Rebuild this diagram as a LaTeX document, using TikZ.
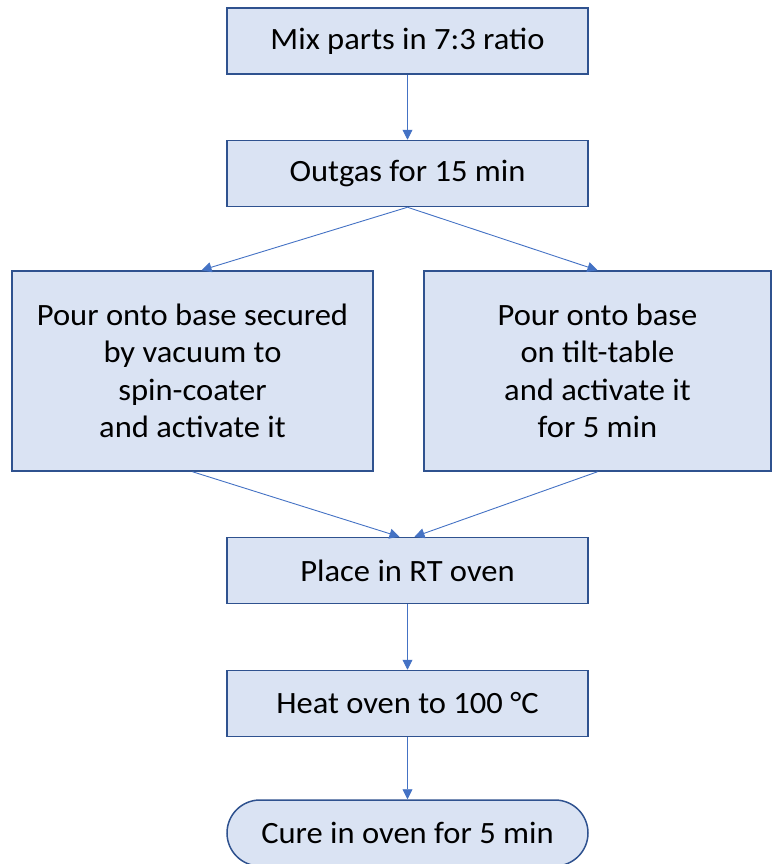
\documentclass[tikz,border=0pt]{standalone}
\usepackage{fontspec}
\setmainfont{Carlito}[FakeStretch=1.05]
\usetikzlibrary{arrows.meta,calc}
\definecolor{boxfill}{HTML}{DAE3F3}
\definecolor{boxdraw}{HTML}{2F528F}
\definecolor{arrowcol}{HTML}{4472C4}
\begin{document}
\begin{tikzpicture}[x=1bp,y=-1bp,
  stepbox/.style={draw=boxdraw,fill=boxfill,line width=1.5bp,minimum width=361bp,minimum height=66bp,inner sep=0pt,align=center,font=\fontsize{31bp}{37.5bp}\selectfont},
  termbox/.style={stepbox,rounded corners=33bp},
  conn/.style={draw=arrowcol,line width=0.9bp,-{Triangle[length=10bp,width=10bp]}}]
\useasboundingbox (0,0) rectangle (772,864);
\begin{scope}
\clip (0,0) rectangle (772,864);
\node[stepbox] (mix) at (407.5,41) {Mix parts in 7:3 ratio};
\node[stepbox] (outgas) at (407.5,173.5) {Outgas for 15 min};
\node[stepbox,minimum width=361bp,minimum height=200bp] (left) at (192.5,371) {Pour onto base secured\\by vacuum to\\spin-coater\\and activate it};
\node[stepbox,minimum width=347bp,minimum height=200bp] (right) at (597.5,371) {Pour onto base\\on tilt-table\\and activate it\\for 5 min};
\node[stepbox] (place) at (407.5,570.5) {Place in RT oven};
\node[stepbox] (heat) at (407.5,703.5) {Heat oven to 100 °C};
\node[termbox] (cure) at (407.5,833) {Cure in oven for 5 min};
\end{scope}
\draw[conn] (mix.south) -- (outgas.north);
\draw[conn] (outgas.south) -- ($(left.north)+(9,0)$);
\draw[conn] (outgas.south) -- (right.north);
\draw[conn] (left.south) -- ($(place.north)+(-8,0)$);
\draw[conn] (right.south) -- ($(place.north)+(7,0)$);
\draw[conn] (place.south) -- (heat.north);
\draw[conn] (heat.south) -- (cure.north);
\end{tikzpicture}
\end{document}
